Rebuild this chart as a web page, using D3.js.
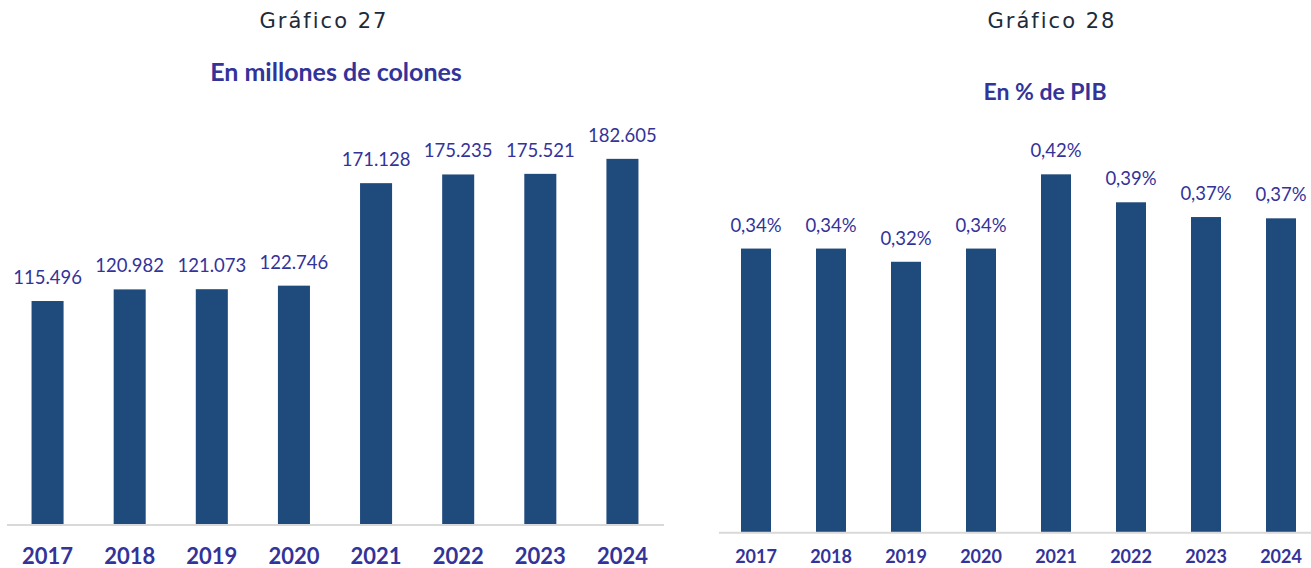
<!DOCTYPE html>
<html>
<head>
<meta charset="utf-8">
<script src="https://cdn.jsdelivr.net/npm/d3@7"></script>
<style>
  body { margin: 0; background: #fff; }
  .title { font-family: "DejaVu Sans", sans-serif; font-size: 21px; fill: #1c2b3c; letter-spacing: 2px; }
  .subtitle { font-family: Lato, sans-serif; font-weight: bold; fill: #33339a; }
  .value { font-family: Lato, sans-serif; fill: #33339a; }
  .year text { font-family: Lato, sans-serif; font-weight: bold; fill: #33339a; }
</style>
</head>
<body>
<svg id="drawing_region"></svg>
<script>
// datos
const years = ['2017', '2018', '2019', '2020', '2021', '2022', '2023', '2024'];
const colones = [115496, 120982, 121073, 122746, 171128, 175235, 175521, 182605];
const pib = [0.3385, 0.3385, 0.324, 0.3385, 0.42, 0.3893, 0.3731, 0.3717];

const svg = d3.select('#drawing_region')
  .attr('width', 1311)
  .attr('height', 568);

const bar_color = '#1f4a7c';

function drawChart(cfg) {
  const g = svg.append('g');

  const x_scale = d3.scaleBand()
    .domain(years)
    .range(cfg.x_range)
    .paddingInner(cfg.pad)
    .paddingOuter(cfg.pad / 2);

  const y_scale = d3.scaleLinear()
    .domain(cfg.y_domain)
    .range(cfg.y_range);

  g.append('text')
    .attr('class', 'title')
    .attr('x', cfg.title_x)
    .attr('y', 28)
    .attr('text-anchor', 'middle')
    .text(cfg.title);

  g.append('text')
    .attr('class', 'subtitle')
    .attr('x', cfg.sub_x)
    .attr('y', cfg.sub_y)
    .attr('text-anchor', 'middle')
    .style('font-size', cfg.sub_size + 'px')
    .text(cfg.subtitle);

  g.selectAll('rect')
    .data(cfg.values)
    .enter()
    .append('rect')
    .attr('x', (d, i) => x_scale(years[i]))
    .attr('y', d => y_scale(d))
    .attr('width', x_scale.bandwidth())
    .attr('height', d => y_scale(cfg.y_domain[0]) - y_scale(d))
    .attr('fill', bar_color);

  g.selectAll('.value')
    .data(cfg.values)
    .enter()
    .append('text')
    .attr('class', 'value')
    .attr('x', (d, i) => x_scale(years[i]) + x_scale.bandwidth() / 2)
    .attr('y', d => y_scale(d) - 17)
    .attr('text-anchor', 'middle')
    .style('font-size', cfg.val_size + 'px')
    .text(cfg.fmt);

  const xaxis = d3.axisBottom(x_scale).tickSize(0).tickPadding(cfg.tick_pad);
  const axis_g = g.append('g')
    .attr('class', 'year')
    .attr('transform', `translate(0, ${cfg.y_range[0]})`)
    .call(xaxis);
  axis_g.select('.domain')
    .attr('stroke', '#d9d9d9')
    .attr('stroke-width', 2);
  axis_g.selectAll('text')
    .style('font-size', cfg.year_size + 'px');
}

const locale = d3.formatLocale({ decimal: ',', thousands: '.', grouping: [3], currency: ['', ''] });

drawChart({
  title: 'Gráfico 27',
  title_x: 324,
  subtitle: 'En millones de colones',
  sub_x: 336, sub_y: 81, sub_size: 25,
  values: colones,
  x_range: [6.5, 663.5],
  pad: 0.61,
  y_domain: [10000, 200000],
  y_range: [524.5, 122],
  val_size: 18.5,
  year_size: 22,
  tick_pad: 24,
  fmt: d => d3.format(',')(d).replace(/,/g, '.')
});

drawChart({
  title: 'Gráfico 28',
  title_x: 1052,
  subtitle: 'En % de PIB',
  sub_x: 1045, sub_y: 100, sub_size: 23,
  values: pib,
  x_range: [718.5, 1318.5],
  pad: 0.6,
  y_domain: [0.027, 0.45],
  y_range: [532.3, 147],
  val_size: 18.5,
  year_size: 18,
  tick_pad: 18,
  fmt: d => locale.format('.2f')(d) + '%'
});
</script>
</body>
</html>
